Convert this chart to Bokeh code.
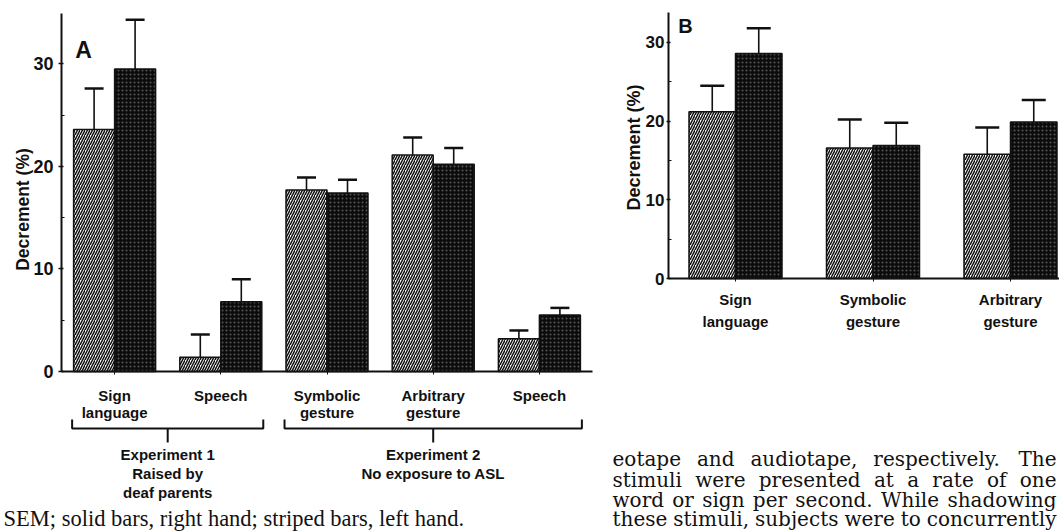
from math import pi
from bokeh.plotting import figure
from bokeh.models import (Range1d, LinearAxis, FixedTicker, ColumnDataSource,
                          Whisker, TeeHead)
from bokeh.core.properties import value
from bokeh.embed import file_html
from bokeh.resources import INLINE

# ---------------- data ----------------
A_CATEGORIES = ["Sign\nlanguage", "Speech", "Symbolic\ngesture", "Arbitrary\ngesture", "Speech"]
A_LEFT = [23.6, 1.4, 17.7, 21.1, 3.2]        # striped bars, left hand
A_LEFT_SEM = [4.0, 2.2, 1.2, 1.7, 0.8]
A_RIGHT = [29.5, 6.8, 17.4, 20.2, 5.5]       # solid bars, right hand
A_RIGHT_SEM = [4.8, 2.2, 1.3, 1.6, 0.7]
A_TICKS = [0, 10, 20, 30]

B_CATEGORIES = ["Sign\nlanguage", "Symbolic\ngesture", "Arbitrary\ngesture"]
B_LEFT = [21.2, 16.6, 15.8]
B_LEFT_SEM = [3.3, 3.6, 3.4]
B_RIGHT = [28.6, 16.9, 19.9]
B_RIGHT_SEM = [3.2, 2.9, 2.8]
B_TICKS = [0, 10, 20, 30]

EXPERIMENTS = [("Experiment 1\nRaised by\ndeaf parents", 0, 1),
               ("Experiment 2\nNo exposure to ASL", 2, 4)]
Y_TITLE = "Decrement (%)"
CAPTION = "SEM; solid bars, right hand; striped bars, left hand."
BODY = ["eotape and audiotape, respectively. The",
        "stimuli were presented at a rate of one",
        "word or sign per second. While shadowing",
        "these stimuli, subjects were to concurrently"]

# ---------------- layout ----------------
W, H = 1059, 531
INK = "#111111"
SANS = "Liberation Sans"


def xr(px, v, ppu):
    s = v - px / ppu
    return Range1d(s, s + W / ppu)


def yr(py, v, ppu):
    e = v + py / ppu
    return Range1d(e - H / ppu, e)


A_PPU_X, A_PPU_Y = 106.2, 10.258
B_PPU_X, B_PPU_Y = 137.5, 7.867
a_x = xr(61, -0.5, A_PPU_X)
a_y = yr(371, 0, A_PPU_Y)
b_x = xr(735, 0, B_PPU_X)
b_y = yr(278, 0, B_PPU_Y)

p = figure(width=W, height=H, x_range=a_x, y_range=a_y, x_axis_type=None, y_axis_type=None,
           toolbar_location=None, output_backend="svg", min_border=0)
p.outline_line_color = None
p.extra_x_ranges = {"bx": b_x, "px": Range1d(0, W)}
p.extra_y_ranges = {"by": b_y, "py": Range1d(H, 0)}


def bars(left, lsem, right, rsem, bw, xname, yname, cap):
    idx = list(range(len(left)))
    for vals, sems, off, striped in ((left, lsem, -bw / 2, True), (right, rsem, bw / 2, False)):
        src = ColumnDataSource(dict(x=[i + off for i in idx], top=vals,
                                    up=[v + s for v, s in zip(vals, sems)]))
        kw = dict(x_range_name=xname, y_range_name=yname)
        w = Whisker(base="x", lower="top", upper="up", source=src, dimension="height",
                    lower_head=None, upper_head=TeeHead(size=cap, line_width=2.5, line_color=INK),
                    line_width=1.6, line_color=INK, **kw)
        p.add_layout(w)
        if striped:
            p.vbar(x="x", top="top", bottom=0, width=bw, source=src, fill_color="white",
                   line_color=INK, line_width=1.5, hatch_pattern="/", hatch_color=INK,
                   hatch_scale=5, hatch_weight=1.5, **kw)
        else:
            p.vbar(x="x", top="top", bottom=0, width=bw, source=src, fill_color="#0b0b0b",
                   line_color=INK, line_width=1.5, hatch_pattern=".", hatch_color="white",
                   hatch_alpha=0.3, hatch_scale=4, hatch_weight=1, **kw)


bars(A_LEFT, A_LEFT_SEM, A_RIGHT, A_RIGHT_SEM, 41 / A_PPU_X, "default", "default", 19)
bars(B_LEFT, B_LEFT_SEM, B_RIGHT, B_RIGHT_SEM, 46.5 / B_PPU_X, "bx", "by", 24)


def y_axis(loc, top, ticks, xname, yname, size, out, standoff):
    ax = LinearAxis(fixed_location=loc, bounds=(0, top), x_range_name=xname, y_range_name=yname,
                    ticker=FixedTicker(ticks=ticks, minor_ticks=[t + 5 for t in ticks[:-1]]))
    ax.axis_line_width = 2
    ax.axis_line_color = INK
    ax.major_tick_line_color = INK
    ax.major_tick_line_width = 1.5
    ax.major_tick_out = out
    ax.major_tick_in = 2
    ax.minor_tick_line_color = INK
    ax.minor_tick_in = 3
    ax.minor_tick_out = 0
    ax.major_label_standoff = standoff
    ax.major_label_text_font = SANS
    ax.major_label_text_font_style = "bold"
    ax.major_label_text_font_size = size
    ax.major_label_text_color = INK
    p.add_layout(ax, "left")


def x_axis(cats, lo, hi, xname, yname, standoff, lh):
    ax = LinearAxis(fixed_location=0, bounds=(lo, hi), x_range_name=xname, y_range_name=yname,
                    ticker=FixedTicker(ticks=list(range(len(cats))), minor_ticks=[]),
                    major_label_overrides={i: c for i, c in enumerate(cats)})
    ax.axis_line_width = 2
    ax.axis_line_color = INK
    ax.major_tick_line_color = INK
    ax.major_tick_out = 3
    ax.major_tick_in = 0
    ax.major_label_standoff = standoff
    ax.major_label_text_font = SANS
    ax.major_label_text_font_style = "bold"
    ax.major_label_text_font_size = "15px"
    ax.major_label_text_line_height = lh
    ax.major_label_text_color = INK
    p.add_layout(ax, "below")


y_axis(-0.5, (371 - 13) / A_PPU_Y, A_TICKS, "default", "default", "18px", 3, 5)
y_axis((668 - 735) / B_PPU_X, (278 - 12) / B_PPU_Y, B_TICKS, "bx", "by", "17px", 2, 2)
x_axis(A_CATEGORIES, -0.5, (592 - 61) / A_PPU_X - 0.5, "default", "default", 12, 1.05)
x_axis(B_CATEGORIES, (668 - 735) / B_PPU_X, b_x.end, "bx", "by", 9, 1.3)

# panel letters and axis titles (placed in page pixels)
TXT = dict(x_range_name="px", y_range_name="py", text_color=INK)
p.text(x=[83], y=[49], text=["A"], text_font=value(SANS), text_font_style="bold",
       text_font_size="23px", text_align="center", text_baseline="middle", **TXT)
p.text(x=[685], y=[25], text=["B"], text_font=value(SANS), text_font_style="bold",
       text_font_size="20px", text_align="center", text_baseline="middle", **TXT)
p.text(x=[22], y=[209], text=[Y_TITLE], angle=pi / 2, text_font=value(SANS),
       text_font_style="bold", text_font_size="17.5px", text_align="center",
       text_baseline="middle", **TXT)
p.text(x=[633], y=[147], text=[Y_TITLE], angle=pi / 2, text_font=value(SANS),
       text_font_style="bold", text_font_size="18px", text_align="center",
       text_baseline="middle", **TXT)

# experiment brackets (x in panel-A data, y in page pixels)
bx_, by_, lab_x, lab_t = [], [], [], []
for label, g0, g1 in EXPERIMENTS:
    l, r, m = g0 - 0.4, g1 + 0.4, (g0 + g1) / 2
    bx_ += [[l, l, r, r], [m, m]]
    by_ += [[419, 428, 428, 419], [428, 442]]
    lab_x.append(m)
    lab_t.append(label)
p.multi_line(xs=bx_, ys=by_, line_color=INK, line_width=2, y_range_name="py")
p.text(x=lab_x, y=[445.5] * len(lab_x), text=lab_t, y_range_name="py", text_color=INK,
       text_font=value(SANS), text_font_style="bold", text_font_size="15px",
       text_align="center", text_baseline="top", text_line_height=1.12)

# caption
p.text(x=[3], y=[518], text=[CAPTION], text_font=value("Liberation Serif"),
       text_font_size="22.5px", text_align="left", text_baseline="middle", **TXT)

# justified body text (approximate DejaVu Serif advance widths, em)
ADV = {" ": .318, "a": .596, "b": .640, "c": .560, "d": .640, "e": .592, "f": .370, "g": .640,
       "h": .644, "i": .320, "j": .310, "k": .606, "l": .320, "m": .948, "n": .644, "o": .602,
       "p": .640, "q": .640, "r": .478, "s": .513, "t": .402, "u": .644, "v": .565, "w": .856,
       "x": .564, "y": .565, "z": .527, ",": .318, ".": .318, "T": .668, "W": 1.028}
FS = 20
X0, X1 = 612, 1056
LINE_Y = [458, 479, 499.5, 518.5]
wx, wy, wt = [], [], []
for line, yy in zip(BODY, LINE_Y):
    words = line.split()
    widths = [sum(ADV.get(c, .6) for c in w) * FS for w in words]
    gap = (X1 - X0 - sum(widths)) / (len(words) - 1)
    xx = X0
    for w, wd in zip(words, widths):
        wx.append(xx)
        wy.append(yy)
        wt.append(w)
        xx += wd + gap
p.text(x=wx, y=wy, text=wt, text_font=value("DejaVu Serif"), text_font_size=f"{FS}px",
       text_align="left", text_baseline="middle", **TXT)

open("out.html", "w").write(file_html(p, INLINE))
